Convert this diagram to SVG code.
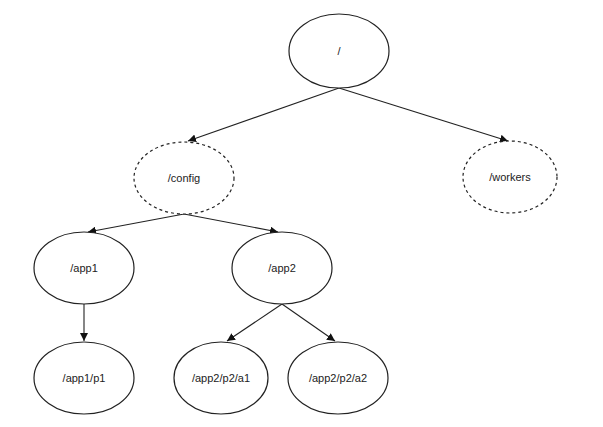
<svg xmlns="http://www.w3.org/2000/svg" width="603" height="427" viewBox="0 0 603 427">
<defs>
<marker id="arr" viewBox="0 0 10 10" refX="10" refY="5" markerWidth="8" markerHeight="8" markerUnits="userSpaceOnUse" orient="auto">
<path d="M0,0 L10,5 L0,10 z" fill="#111"/>
</marker>
<style>
.n{fill:#fff;stroke:#222;stroke-width:1.2}
.d{stroke-dasharray:3,3}
.t{font-family:"Liberation Sans",Arial,sans-serif;font-size:11px;fill:#222;text-anchor:middle}
.e{fill:none;stroke:#222;stroke-width:1.1;marker-end:url(#arr)}
</style>
</defs>
<rect width="603" height="427" fill="#fff"/>
<g id="connectors">
<line class="e" x1="339" y1="88" x2="188" y2="141"/>
<line class="e" x1="339" y1="88" x2="508" y2="141"/>
<line class="e" x1="184" y1="214" x2="88" y2="232"/>
<line class="e" x1="184" y1="214" x2="278" y2="232"/>
<line class="e" x1="84" y1="304" x2="84" y2="341"/>
<line class="e" x1="282" y1="304" x2="227" y2="341"/>
<line class="e" x1="282" y1="304" x2="335" y2="341"/>
</g>
<g id="root"><ellipse class="n" cx="339" cy="51" rx="50" ry="37"/><text class="t" x="339" y="55">/</text></g>
<g id="config"><ellipse class="n d" cx="184" cy="178" rx="50" ry="36"/><text class="t" x="184" y="182">/config</text></g>
<g id="workers"><ellipse class="n d" cx="510" cy="177" rx="47" ry="36"/><text class="t" x="510" y="181">/workers</text></g>
<g id="app1"><ellipse class="n" cx="84" cy="268" rx="50" ry="36"/><text class="t" x="84" y="272">/app1</text></g>
<g id="app2"><ellipse class="n" cx="282" cy="268" rx="50" ry="36"/><text class="t" x="282" y="272">/app2</text></g>
<g id="app1p1"><ellipse class="n" cx="84" cy="378" rx="50" ry="36"/><text class="t" x="84" y="382">/app1/p1</text></g>
<g id="a1"><ellipse class="n" cx="221" cy="378" rx="47" ry="36"/><text class="t" x="221" y="382">/app2/p2/a1</text></g>
<g id="a2"><ellipse class="n" cx="338" cy="378" rx="50" ry="36"/><text class="t" x="338" y="382">/app2/p2/a2</text></g>
</svg>
